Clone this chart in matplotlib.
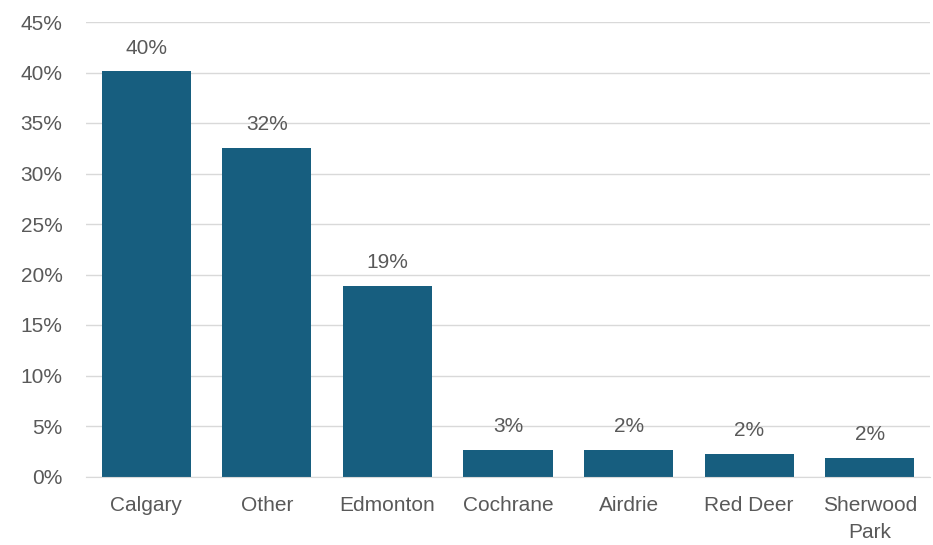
import matplotlib.pyplot as plt
from matplotlib.ticker import FuncFormatter

# veriler (resimden okunan yaklaşık değerler)
cities = ["Calgary", "Other", "Edmonton", "Cochrane", "Airdrie", "Red Deer", "Sherwood\nPark"]
shares = [40.1, 32.5, 18.9, 2.6, 2.6, 2.2, 1.8]
share_labels = ["40%", "32%", "19%", "3%", "2%", "2%", "2%"]
y_ticks = [0, 5, 10, 15, 20, 25, 30, 35, 40, 45]

BAR_COLOR = "#175E7F"
TEXT_COLOR = "#595959"

plt.rcParams['font.family'] = ['Liberation Sans', 'DejaVu Sans']

fig = plt.figure(figsize=(9.33, 5.45), dpi=100)
ax = fig.add_axes([86 / 933, 1 - 476.5 / 545, (930 - 86) / 933, (476.5 - 22) / 545])

x = range(len(cities))
bars = ax.bar(x, shares, width=0.74, color=BAR_COLOR, zorder=3)

for bar, lbl in zip(bars, share_labels):
    ax.annotate(lbl, (bar.get_x() + bar.get_width() / 2, bar.get_height()),
                xytext=(0, 10), textcoords="offset points",
                ha="center", va="bottom", fontsize=15, color=TEXT_COLOR)

ax.set_xlim(-0.5, len(cities) - 0.5)
ax.set_ylim(0, 45)
ax.set_yticks(y_ticks)
ax.yaxis.set_major_formatter(FuncFormatter(lambda v, _: f"{v:.0f}%"))
ax.set_xticks(list(x))
ax.set_xticklabels(cities, linespacing=1.55)

ax.grid(axis="y", color="#D9D9D9", linewidth=1, zorder=0)
ax.tick_params(axis="both", length=0, labelsize=15, colors=TEXT_COLOR)
ax.tick_params(axis="y", pad=17)
ax.tick_params(axis="x", pad=14)

for side in ["top", "right", "left"]:
    ax.spines[side].set_visible(False)
ax.spines["bottom"].set_color("#D9D9D9")
ax.spines["bottom"].set_zorder(4)

fig.savefig("out.png", dpi=100)
